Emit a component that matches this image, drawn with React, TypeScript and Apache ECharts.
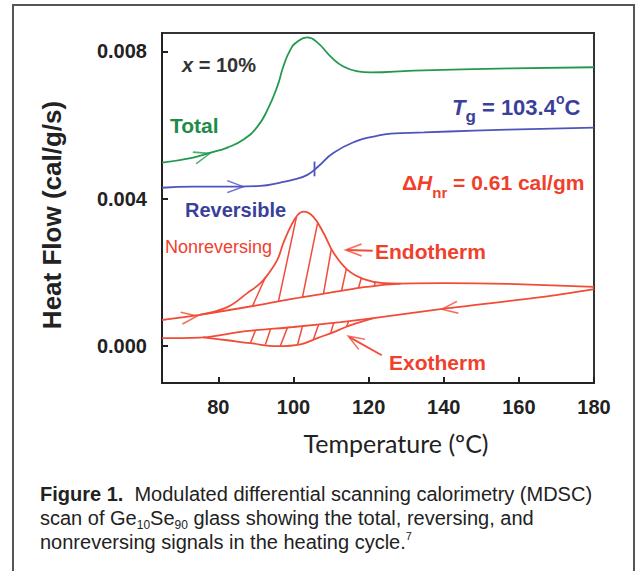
import React, { useEffect, useRef } from "react";
import * as echarts from "echarts";

// ---------- data (temperature in ºC, heat flow in cal/g/s) ----------
const xTickValues = [80, 100, 120, 140, 160, 180];
const yTickValues = [0, 0.004, 0.008];

const totalHeatFlow: [number, number][] = [
  [65, 0.00498], [73.3, 0.00512], [77.9, 0.00525], [82.4, 0.00539], [86.7, 0.00561],
  [90.4, 0.00596], [93.1, 0.00642], [95.7, 0.00705], [97.3, 0.00759], [99.2, 0.00805],
  [101.1, 0.00827], [103.7, 0.00838], [106.4, 0.00824], [109.9, 0.00786], [113.3, 0.00759],
  [117.1, 0.00746], [120.5, 0.00743], [132, 0.00748], [158, 0.00754], [180, 0.00757],
];

const reversingHeatFlow: [number, number][] = [
  [65, 0.0043], [73.3, 0.00433], [85.1, 0.00433], [91.2, 0.00435], [96.5, 0.00444],
  [100, 0.00452], [103.7, 0.00465], [106.5, 0.00487], [110.7, 0.00525], [117.1, 0.00558],
  [121.3, 0.00569], [125.9, 0.00577], [134.7, 0.0058], [148, 0.00585], [165.9, 0.0059],
  [180, 0.00593],
];

const tgMarker: [number, number][] = [[105.6, 0.00501], [105.6, 0.00461]];

const nonrevHeatingBase: [number, number][] = [
  [65, 0.00071], [75, 0.00085], [91, 0.00112], [100, 0.00129], [109, 0.00144],
  [118, 0.00159], [128.5, 0.0017], [140, 0.00171], [157, 0.00169], [180, 0.00161],
];

const nonrevEndoPeak: [number, number][] = [
  [75, 0.00085], [82.4, 0.00106], [87.7, 0.00144], [91.2, 0.00171], [93.3, 0.00196],
  [95.7, 0.00234], [97.3, 0.0028], [99.2, 0.00324], [101.1, 0.00356], [102.7, 0.00365],
  [105.3, 0.00351], [108, 0.00307], [110.7, 0.00253], [114.4, 0.00207], [118.7, 0.00182],
  [124, 0.00171], [128.5, 0.0017],
];

const nonrevCooling: [number, number][] = [
  [180, 0.00155], [165.9, 0.00133], [141.1, 0.00103], [121.3, 0.00076], [112.5, 0.00065],
  [100, 0.00052], [86.7, 0.0004], [76, 0.00024], [65, 0.00022],
];

const nonrevExoDip: [number, number][] = [
  [76, 0.00024], [82.4, 0.00016], [88.5, 0.00008], [95.7, 0.0], [101.9, 0.00005],
  [106.4, 0.00022], [110.7, 0.00038], [113.9, 0.00052], [117.1, 0.00063], [121.3, 0.00076],
];

// hatch strokes: [T1, W1, T2, W2]
const endoHatch: [number, number, number, number][] = [
  [89.1, 0.001088, 92.5, 0.001865],
  [96, 0.001214, 100.8, 0.00351],
  [102.4, 0.00133, 106.4, 0.00333],
  [108, 0.001423, 110.1, 0.00265],
  [112.8, 0.001503, 114.1, 0.00211],
  [117.3, 0.001578, 118.1, 0.001865],
  [121.5, 0.001627, 121.8, 0.001755],
];

const exoHatch: [number, number, number, number][] = [
  [88.5, 0.00008, 89.9, 0.00043],
  [92.5, 0.000036, 93.9, 0.000465],
  [96.5, 0.000007, 98.4, 0.000505],
  [101.1, 0.000044, 102.4, 0.000545],
  [105.3, 0.000178, 106.7, 0.00059],
  [109.9, 0.00035, 110.7, 0.000631],
  [114.1, 0.000527, 114.7, 0.000677],
];

// direction arrows on the curves: [T, W]
const totalArrow: [number, number] = [75.7, 0.00517];
const reversingArrow: [number, number] = [84.5, 0.00433];
const heatingArrow: [number, number] = [72.3, 0.00079];
const coolingArrow: [number, number] = [141.6, 0.00103];

// annotation pointers
const endoPointer: [number, number][] = [[114.2, 0.00261], [121.1, 0.00259]];
const endoHead: [number, number] = [116, 0.00261];
const exoPointer: [number, number][] = [[114.9, 0.000245], [123.5, -0.000245]];
const exoHead: [number, number] = [116.4, 0.00016];

// ---------- styles ----------
const GREEN = "#22994f";
const GREEN_TXT = "#1e8c48";
const BLUE = "#4d55bd";
const BLUE_TXT = "#3b3f9c";
const RED = "#f24b37";
const RED_TXT = "#f0402c";
const AXIS = "#222";
const FONT = '"Liberation Sans", Arial, Helvetica, sans-serif';
const CHEVRON = "path://M0,0L12,7L0,14";

const line = (data: [number, number][], color: string, smooth: number) => ({
  type: "line",
  data,
  showSymbol: false,
  symbol: "none",
  smooth,
  silent: true,
  z: 3,
  lineStyle: { color, width: 1.8 },
});

const segs = (rows: [number, number, number, number][], color: string) => ({
  type: "lines",
  coordinateSystem: "cartesian2d",
  silent: true,
  z: 3,
  symbol: "none",
  lineStyle: { color, width: 1.5, opacity: 1, curveness: 0 },
  data: rows.map(([a, b, c, d]) => ({ coords: [[a, b], [c, d]] })),
});

const chevrons = (items: { value: [number, number]; symbolRotate: number }[], color: string) => ({
  type: "scatter",
  silent: true,
  z: 4,
  symbol: CHEVRON,
  symbolSize: [16, 12],
  itemStyle: { color: "transparent", borderColor: color, borderWidth: 1.7 },
  data: items,
});

const txt = (x: number, y: number, text: string, size: number, weight: string, fill: string, extra: any = {}) => ({
  type: "text",
  x,
  y,
  z: 10,
  style: {
    text,
    fontSize: size,
    fontWeight: weight,
    fontFamily: FONT,
    fill,
    align: "left",
    verticalAlign: "middle",
    ...extra,
  },
});

const tok = (size: number, weight: string, fill: string, more: any = {}) => ({
  fontSize: size,
  fontWeight: weight,
  fontStyle: "normal",
  fontFamily: FONT,
  fill,
  ...more,
});

export default function App() {
  const ref = useRef<HTMLDivElement>(null);

  useEffect(() => {
    if (!ref.current) return;
    const chart = echarts.init(ref.current, null, { renderer: "svg" });

    const yTitle: any = txt(52, 215, "Heat Flow (cal/g/s)", 26, "bold", AXIS, { align: "center" });
    yTitle.rotation = Math.PI / 2;

    const option: any = {
      animation: false,
      backgroundColor: "#ffffff",
      grid: {
        left: 162,
        top: 33,
        right: 43,
        bottom: 188,
        show: true,
        borderColor: "#333",
        borderWidth: 2,
        backgroundColor: "transparent",
      },
      xAxis: {
        type: "value",
        min: 65,
        max: 180,
        axisLine: { show: true, onZero: false, lineStyle: { color: AXIS, width: 2 } },
        axisTick: { show: true, inside: true, length: 6, customValues: xTickValues, lineStyle: { color: AXIS, width: 2 } },
        axisLabel: {
          customValues: xTickValues,
          margin: 14,
          color: AXIS,
          fontSize: 20,
          fontWeight: "bold",
          fontFamily: FONT,
        },
        splitLine: { show: false },
      },
      yAxis: {
        type: "value",
        min: -0.001,
        max: 0.0085,
        axisLine: { show: true, onZero: false, lineStyle: { color: AXIS, width: 2 } },
        axisTick: { show: true, inside: true, length: 6, customValues: yTickValues, lineStyle: { color: AXIS, width: 2 } },
        axisLabel: {
          customValues: yTickValues,
          margin: 15,
          color: AXIS,
          fontSize: 20,
          fontWeight: "bold",
          fontFamily: FONT,
          formatter: (v: number) => v.toFixed(3),
        },
        splitLine: { show: false },
      },
      series: [
        line(totalHeatFlow, GREEN, 0.5),
        line(reversingHeatFlow, BLUE, 0.5),
        line(tgMarker, BLUE, 0),
        line(nonrevHeatingBase, RED, 0.3),
        line(nonrevEndoPeak, RED, 0.4),
        line(nonrevCooling, RED, 0.3),
        line(nonrevExoDip, RED, 0.4),
        segs(endoHatch, RED),
        segs(exoHatch, RED),
        {
          type: "lines",
          coordinateSystem: "cartesian2d",
          silent: true,
          z: 3,
          symbol: "none",
          lineStyle: { color: RED, width: 1.8, opacity: 1 },
          data: [{ coords: endoPointer }, { coords: exoPointer }],
        },
        chevrons([{ value: totalArrow, symbolRotate: 16 }], GREEN),
        chevrons([{ value: reversingArrow, symbolRotate: 0 }], BLUE),
        chevrons(
          [
            { value: heatingArrow, symbolRotate: 8 },
            { value: coolingArrow, symbolRotate: 187 },
            { value: endoHead, symbolRotate: 180 },
            { value: exoHead, symbolRotate: 149 },
          ],
          RED
        ),
      ],
      graphic: [
        {
          type: "rect",
          z: 0,
          shape: { x: 13, y: 5, width: 621, height: 590 },
          style: { fill: "none", stroke: "#555", lineWidth: 2 },
        },
        yTitle,
        txt(396, 443, "Temperature (ºC)", 25, "normal", AXIS, { align: "center", fontFamily: "Lato, sans-serif" }),
        txt(182, 65, "{i|x}{n| = 10%}", 20, "bold", "#333", {
          rich: {
            i: tok(20, "bold", "#333", { fontStyle: "italic" }),
            n: tok(20, "bold", "#333"),
          },
        }),
        txt(170, 125, "Total", 21, "bold", GREEN_TXT),
        txt(185, 210, "Reversible", 20, "bold", BLUE_TXT),
        txt(165, 247, "Nonreversing", 18, "normal", RED_TXT),
        txt(452, 107, "{i|T}{s|g}{n| = 103.4}{p|o}{n|C}", 22, "bold", BLUE_TXT, {
          lineHeight: 26,
          rich: {
            i: tok(22, "bold", BLUE_TXT, { fontStyle: "italic" }),
            s: tok(17, "bold", BLUE_TXT, { verticalAlign: "bottom", height: 8 }),
            n: tok(22, "bold", BLUE_TXT),
            p: tok(14, "bold", BLUE_TXT, { verticalAlign: "top", height: 10 }),
          },
        }),
        txt(402, 182, "{n|Δ}{i|H}{s|nr}{n| = 0.61 cal/gm}", 21, "bold", RED_TXT, {
          lineHeight: 26,
          rich: {
            i: tok(21, "bold", RED_TXT, { fontStyle: "italic" }),
            s: tok(15, "bold", RED_TXT, { verticalAlign: "bottom", height: 6 }),
            n: tok(21, "bold", RED_TXT),
          },
        }),
        txt(375, 251, "Endotherm", 21, "bold", RED_TXT),
        txt(389, 362, "Exotherm", 21, "bold", RED_TXT),
        txt(
          40,
          482,
          "{b|Figure 1.}{n|  Modulated differential scanning calorimetry (MDSC)}\n" +
            "{n|scan of Ge}{s|10}{n|Se}{s|90}{n| glass showing the total, reversing, and}\n" +
            "{n|nonreversing signals in the heating cycle.}{p|7}",
          20,
          "normal",
          "#222",
          {
            verticalAlign: "top",
            lineHeight: 24,
            rich: {
              b: tok(20, "bold", "#222"),
              n: tok(20, "normal", "#222"),
              s: tok(12, "normal", "#222", { verticalAlign: "bottom", height: 10 }),
              p: tok(11, "normal", "#222", { verticalAlign: "top", height: 12 }),
            },
          }
        ),
      ],
    };

    chart.setOption(option);
    return () => chart.dispose();
  }, []);

  return (
    <div
      ref={ref}
      style={{ position: "fixed", left: 0, top: 0, width: 637, height: 571, background: "#fff" }}
    />
  );
}
